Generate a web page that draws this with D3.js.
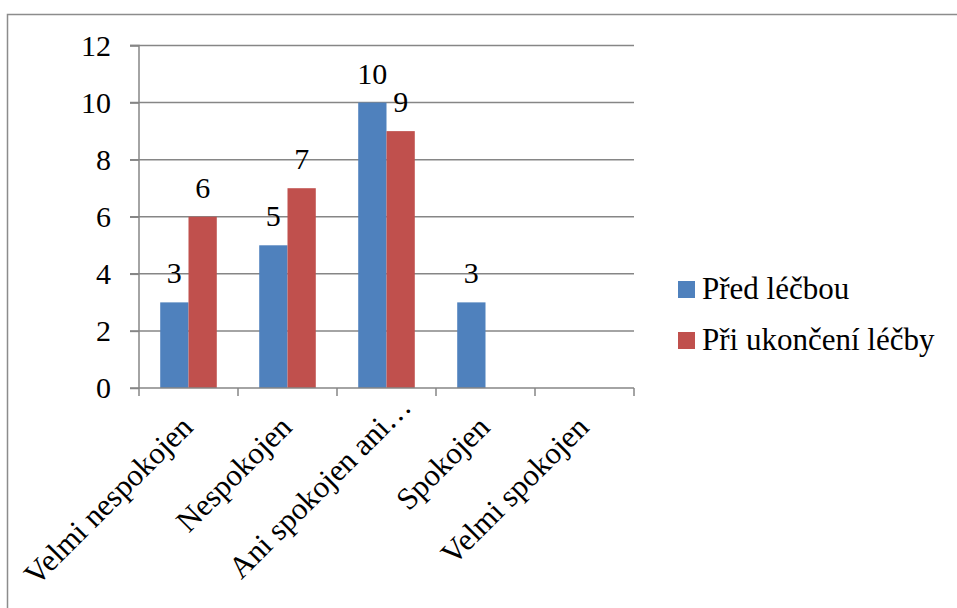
<!DOCTYPE html>
<html><head><meta charset="utf-8">
<script src="https://cdn.jsdelivr.net/npm/d3@7/dist/d3.min.js"></script>
<style>
html,body{margin:0;padding:0;background:#fff;}
svg{display:block;font-family:"Liberation Serif","Times New Roman",serif;}
</style></head><body>
<svg id="chart" width="957" height="608"></svg>
<script>
const categories = ["Velmi nespokojen", "Nespokojen", "Ani spokojen ani…", "Spokojen", "Velmi spokojen"];
const seriesNames = ["Před léčbou", "Při ukončení léčby"];
const predLecbou = [3, 5, 10, 3, 0];
const priUkonceni = [6, 7, 9, 0, 0];
const yTicks = [0, 2, 4, 6, 8, 10, 12];
const colors = ["#4F81BD", "#C0504D"];

const svg = d3.select("#chart");
const fsNum = 30, fsText = 31;
const gridColor = "#868686";
const FONT = "Liberation Serif";

// outer border
svg.append("path").attr("d", "M7.5,640 V14.5 H980")
  .attr("fill", "none").attr("stroke", "#8c8c8c").attr("stroke-width", 1.5);

const pLeft = 139, pRight = 634, pTop = 45.5, pBottom = 388;
const x0 = d3.scaleBand().domain(categories).range([pLeft, pRight]).padding(0);
const x1 = d3.scaleBand().domain(seriesNames).range([0, x0.bandwidth()]).paddingInner(0).paddingOuter(0.75);
const y = d3.scaleLinear().domain([0, 12]).range([pBottom, pTop]);

// gridlines
svg.append("g").selectAll("line").data(yTicks.filter(d => d > 0)).join("line")
  .attr("x1", pLeft - 9).attr("x2", pRight).attr("y1", d => y(d)).attr("y2", d => y(d))
  .attr("stroke", gridColor).attr("stroke-width", 1.5);

// y axis
const yAxis = svg.append("g").attr("transform", `translate(${pLeft},0)`)
  .call(d3.axisLeft(y).tickValues(yTicks).tickSize(9).tickPadding(19).tickFormat(d3.format("d")))
  .attr("font-family", FONT);
yAxis.select(".domain").attr("stroke", gridColor).attr("stroke-width", 1.5).attr("d", `M-9,${y(12)}H0V${pBottom}`);
yAxis.selectAll(".tick line").attr("stroke", gridColor).attr("stroke-width", 1.5);
yAxis.selectAll(".tick text").attr("font-size", fsNum).attr("font-family", FONT).attr("fill", "#000");

// bars
const data = categories.map((c, i) => ({ cat: c, vals: [predLecbou[i], priUkonceni[i]] }));
const groups = svg.append("g").selectAll("g").data(data).join("g")
  .attr("transform", d => `translate(${x0(d.cat)},0)`);
groups.selectAll("rect").data(d => d.vals.map((v, j) => ({ s: seriesNames[j], v, j })).filter(e => e.v > 0))
  .join("rect")
  .attr("x", e => x1(e.s)).attr("width", x1.bandwidth())
  .attr("y", e => y(e.v)).attr("height", e => y(0) - y(e.v))
  .attr("fill", e => colors[e.j]);
groups.selectAll("text").data(d => d.vals.map((v, j) => ({ s: seriesNames[j], v, j })).filter(e => e.v > 0))
  .join("text")
  .attr("x", e => x1(e.s) + x1.bandwidth() / 2).attr("y", e => y(e.v) - 19)
  .attr("text-anchor", "middle").attr("font-size", fsNum).attr("font-family", FONT).attr("fill", "#000")
  .text(e => e.v);

// x axis
const xAxisG = svg.append("g").attr("transform", `translate(0,${pBottom})`);
xAxisG.append("line").attr("x1", pLeft - 9).attr("x2", pRight).attr("y1", 0).attr("y2", 0)
  .attr("stroke", gridColor).attr("stroke-width", 1.5);
const boundaries = categories.map(c => x0(c)).concat([pRight]);
xAxisG.selectAll("line.t").data(boundaries).join("line").attr("class", "t")
  .attr("x1", d => d).attr("x2", d => d).attr("y1", 0).attr("y2", 8)
  .attr("stroke", gridColor).attr("stroke-width", 1.5);
xAxisG.selectAll("text").data(categories).join("text")
  .attr("transform", d => `translate(${x0(d) + x0.bandwidth() / 2 + 6},${41}) rotate(-45)`)
  .attr("dx", d => d.endsWith("…") ? 29 : 0)
  .attr("text-anchor", "end").attr("font-size", fsText).attr("font-family", FONT).attr("fill", "#000")
  .text(d => d);

// legend
const lg = svg.append("g").attr("transform", "translate(678,281)");
const items = lg.selectAll("g").data(seriesNames).join("g").attr("transform", (d, i) => `translate(0,${i * 51})`);
items.append("rect").attr("width", 17).attr("height", 17).attr("fill", (d, i) => colors[i]);
items.append("text").attr("x", 24).attr("y", 18).attr("font-size", fsText).attr("font-family", FONT)
  .attr("fill", "#000").text(d => d);
</script>
</body></html>
